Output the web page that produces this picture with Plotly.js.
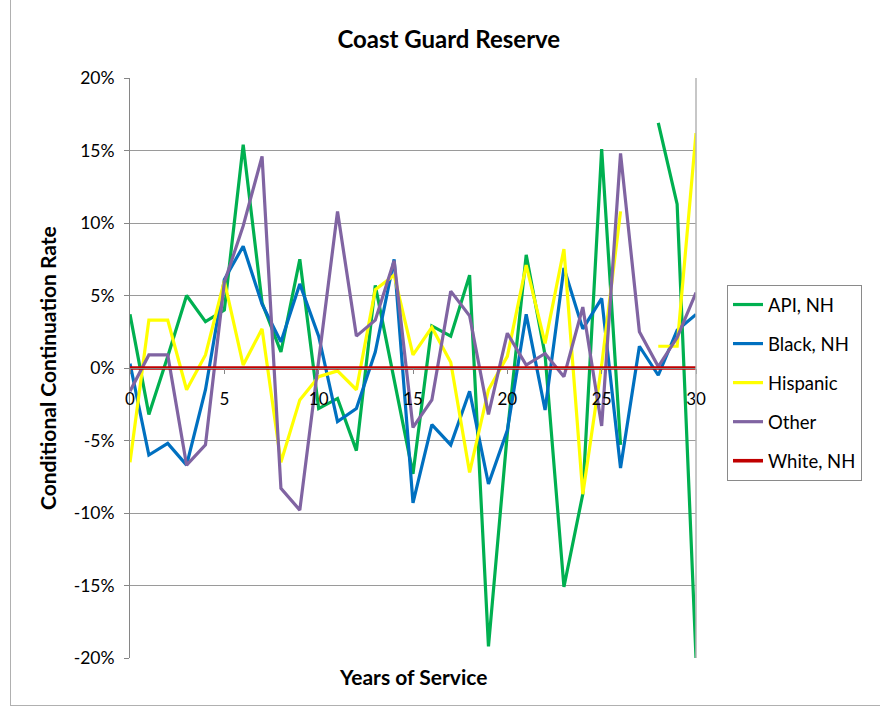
<!DOCTYPE html>
<html>
<head>
<meta charset="utf-8">
<script src="https://cdn.plot.ly/plotly-3.0.1.min.js"></script>
<style>
  html, body { margin: 0; padding: 0; background: #fff; }
  #wrap { position: relative; width: 880px; height: 711px; overflow: hidden; }
  #chart { width: 880px; height: 711px; }
  #frame { position: absolute; left: 10px; top: -2px; width: 900px; height: 706px;
           border: 1px solid #b0b0b0; pointer-events: none; }
</style>
</head>
<body>
<div id="wrap">
  <div id="chart"></div>
  <div id="frame"></div>
</div>
<script>
const years = [0,1,2,3,4,5,6,7,8,9,10,11,12,13,14,15,16,17,18,19,20,21,22,23,24,25,26,27,28,29,30];

const apiNH    = [3.7, -3.2, 0.8, 5.0, 3.2, 4.0, 15.4, 4.5, 1.1, 7.5, -2.8, -2.1, -5.7, 5.7, -0.8, -7.3, 2.9, 2.2, 6.4, -19.2, -4.5, 7.8, 0.9, -15.1, -8.7, 15.1, -5.3, null, 16.9, 11.3, -20.0];
const blackNH  = [0.3, -6.0, -5.2, -6.7, -1.5, 6.1, 8.4, 4.4, 1.8, 5.8, 2.2, -3.7, -2.8, 1.1, 7.5, -9.3, -3.9, -5.3, -1.6, -8.0, -4.3, 3.7, -2.9, 6.9, 2.7, 4.8, -6.9, 1.5, -0.5, 2.6, 3.7];
const hispanic = [-6.5, 3.3, 3.3, -1.5, 0.9, 6.0, 0.2, 2.7, -6.5, -2.2, -0.6, -0.2, -1.5, 5.4, 6.4, 0.9, 2.8, 0.4, -7.2, -1.5, 0.8, 7.1, 1.7, 8.2, -8.7, 0.2, 10.8, null, 1.5, 1.5, 16.2];
const other    = [-1.6, 0.9, 0.9, -6.7, -5.3, 5.9, 9.8, 14.6, -8.3, -9.8, 0.5, 10.8, 2.2, 3.3, 7.4, -4.1, -2.2, 5.3, 3.6, -3.2, 2.4, 0.2, 1.0, -0.6, 4.2, -4.0, 14.8, 2.5, 0.1, 2.1, 5.2];
const whiteNH  = [0,0,0,0,0,0,0,0,0,0,0,0,0,0,0,0,0,0,0,0,0,0,0,0,0,0,0,0,0,0,0];

const seriesNames = ["API, NH", "Black, NH", "Hispanic", "Other", "White, NH"];
const yTickVals = [-20, -15, -10, -5, 0, 5, 10, 15, 20];
const yTickText = ["-20%", "-15%", "-10%", "-5%", "0%", "5%", "10%", "15%", "20%"];
const xTickVals = [0, 5, 10, 15, 20, 25, 30];

const colors = ["#00B050", "#0070C0", "#FFFF00", "#8064A2", "#C00000"];
const allSeries = [apiNH, blackNH, hispanic, other, whiteNH];

const FONT = "Lato, 'Open Sans', sans-serif";

const traces = allSeries.map((vals, i) => ({
  x: years,
  y: vals,
  type: "scatter",
  mode: "lines",
  name: seriesNames[i],
  legendgroup: "g" + i,
  line: { color: colors[i], width: i === 4 ? 3.6 : 3.2 },
  connectgaps: false,
  hoverinfo: "skip"
}));

const layout = {
  width: 880,
  height: 711,
  margin: { l: 130, r: 184, t: 78, b: 53 },
  paper_bgcolor: "#ffffff",
  plot_bgcolor: "#ffffff",
  font: { family: FONT, color: "#000" },
  showlegend: true,
  title: {
    text: "<b>Coast Guard Reserve</b>",
    font: { family: FONT, size: 24, color: "#000" },
    xref: "container", x: 0.51, xanchor: "center",
    yref: "container", y: 1 - 40 / 711, yanchor: "middle"
  },
  xaxis: {
    range: [0, 30],
    anchor: "free",
    position: 0.5,
    tickvals: xTickVals,
    ticks: "outside",
    ticklen: 5,
    tickcolor: "#868686",
    showline: true,
    linecolor: "#868686",
    linewidth: 1,
    showgrid: false,
    zeroline: false,
    ticklabelstandoff: 11,
    tickfont: { family: FONT, size: 17, color: "#000" }
  },
  yaxis: {
    range: [-20, 20],
    domain: [0, 1],
    tickvals: yTickVals,
    ticktext: yTickText,
    ticks: "outside",
    ticklen: 5,
    tickcolor: "#868686",
    showline: true,
    linecolor: "#868686",
    linewidth: 1,
    showgrid: true,
    gridcolor: "#9a9a9a",
    gridwidth: 1,
    zeroline: false,
    ticklabelstandoff: 6,
    tickfont: { family: FONT, size: 17.5, color: "#000" }
  },
  legend: {
    x: (727 - 130) / 566,
    y: (658 - 285) / 580,
    xanchor: "left",
    yanchor: "top",
    bordercolor: "#8a8a8a",
    borderwidth: 1,
    bgcolor: "#ffffff",
    traceorder: "grouped",
    tracegroupgap: 12,
    font: { family: FONT, size: 18.5, color: "#000" }
  },
  shapes: [
    { type: "line", xref: "paper", yref: "paper", x0: 1, x1: 1, y0: 0, y1: 1,
      line: { color: "#b5b5b5", width: 1.5 } }
  ],
  annotations: [
    { text: "<b>Conditional Continuation Rate</b>", xref: "paper", yref: "paper",
      x: (47 - 130) / 566, y: 0.5, xanchor: "center", yanchor: "middle",
      textangle: -90, showarrow: false, font: { family: FONT, size: 21, color: "#000" } },
    { text: "<b>Years of Service</b>", xref: "paper", yref: "paper",
      x: (413 - 130) / 566, y: (658 - 677) / 580, xanchor: "center", yanchor: "middle",
      showarrow: false, font: { family: FONT, size: 21, color: "#000" } }
  ]
};

Plotly.newPlot("chart", traces, layout, { displayModeBar: false, staticPlot: true });
</script>
</body>
</html>
